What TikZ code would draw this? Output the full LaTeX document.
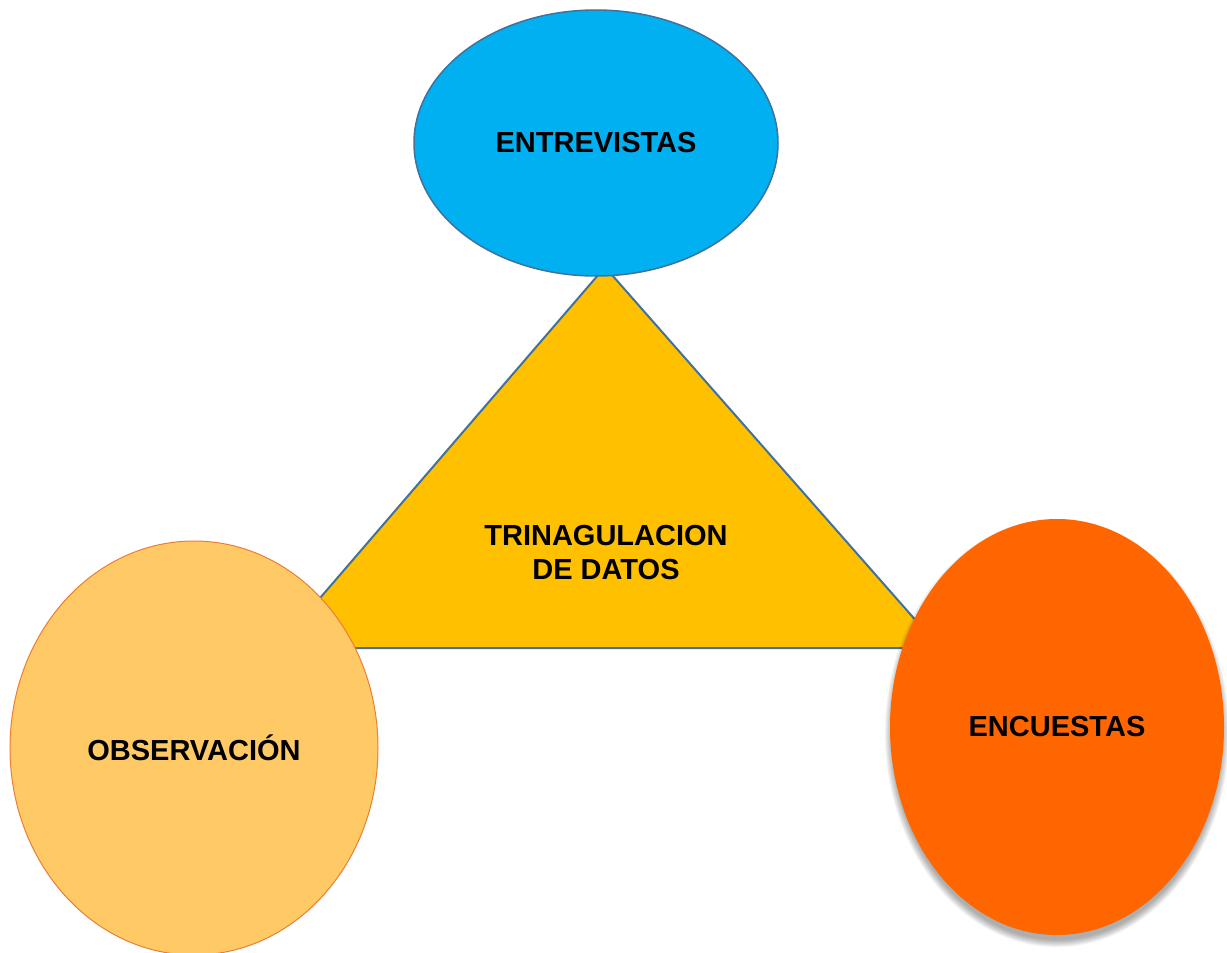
\documentclass[tikz,border=0pt]{standalone}
\usepackage{fontspec}
\setmainfont{Liberation Sans}
\usetikzlibrary{shapes.geometric}
\definecolor{entblue}{HTML}{00B0F0}
\definecolor{edgeblue}{HTML}{41719C}
\definecolor{trigold}{HTML}{FFC000}
\definecolor{obsfill}{HTML}{FFCA66}
\definecolor{obsedge}{HTML}{ED7D31}
\definecolor{encfill}{HTML}{FF6600}
\tikzset{
  lbl/.style={font=\fontsize{29}{34}\selectfont\bfseries, text=black, align=center},
  oval/.style={ellipse, inner sep=0pt, lbl},
}
\begin{document}
\begin{tikzpicture}[x=1pt,y=-1pt]
\useasboundingbox (0,0) rectangle (1227,953);
\fill[white] (0,0) rectangle (1227,953);
% triangle
\coordinate (apex) at (605,267);
\coordinate (bl) at (277,648);
\coordinate (br) at (940,648);
\draw[edgeblue, line width=2pt, fill=trigold, line join=miter] (apex) -- (br) -- (bl) -- cycle;
\node[lbl] (tri) at (606,553) {TRINAGULACION\\DE DATOS};
% entrevistas
\node[oval, draw=edgeblue, line width=1.5pt, fill=entblue, minimum width=364pt, minimum height=266pt] (ent) at (596,143) {ENTREVISTAS};
% observacion
\node[oval, draw=obsedge, line width=1pt, fill=obsfill, minimum width=368pt, minimum height=414pt] (obs) at (194,748) {OBSERVACIÓN};
% encuestas shadow
\foreach \i in {0,...,9}{
  \fill[black, opacity=0.035] (1057,733) ellipse ({165+\i*0.8} and {207+\i*0.8});
}
\node[oval, fill=encfill, minimum width=334pt, minimum height=416pt] (enc) at (1057,727) {ENCUESTAS};
\end{tikzpicture}
\end{document}
